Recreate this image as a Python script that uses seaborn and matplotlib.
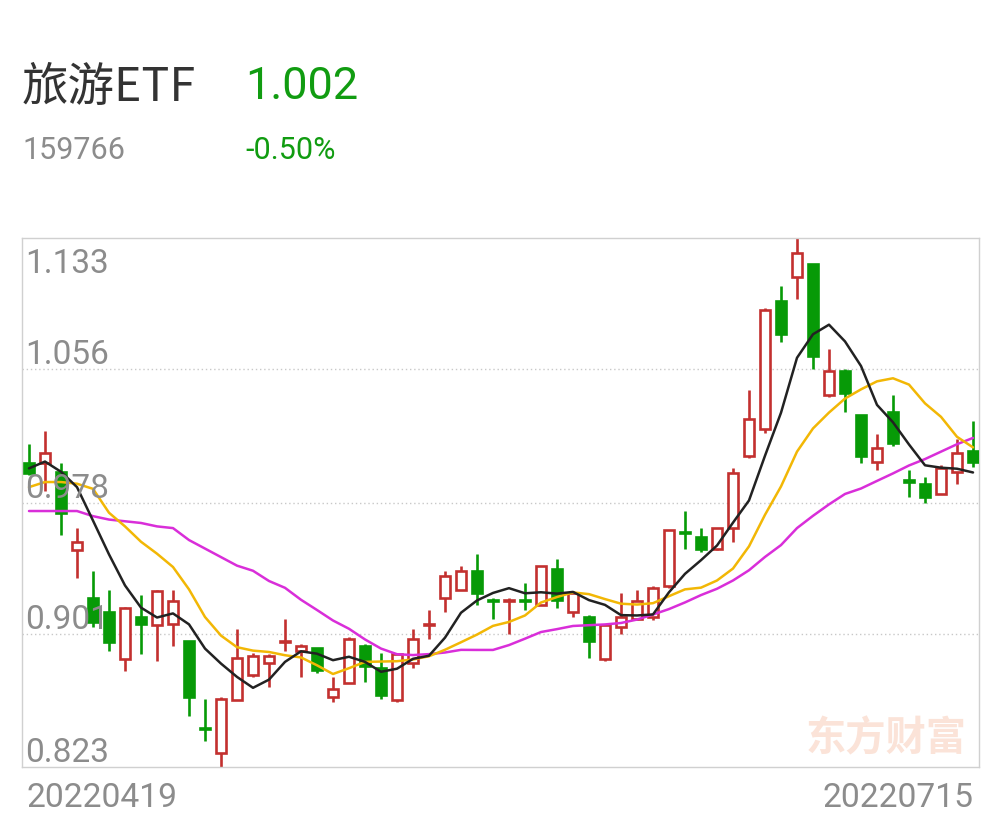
import numpy as np
import pandas as pd
import matplotlib
matplotlib.use('Agg')
import matplotlib.pyplot as plt
import matplotlib.transforms as mtransforms
import seaborn as sns

# ---------------- data ----------------
title_name = '旅游ETF'
code = '159766'
last_price = '1.002'
last_change = '-0.50%'
date_first = '20220419'
date_last = '20220715'
y_ticks = [1.133, 1.056, 0.978, 0.901, 0.823]

opens = [1.001, 1.001, 0.996, 0.950, 0.922, 0.914, 0.886, 0.911, 0.906, 0.907,
         0.897, 0.846, 0.831, 0.862, 0.877, 0.884, 0.896, 0.891, 0.893, 0.864,
         0.872, 0.894, 0.881, 0.862, 0.884, 0.906, 0.922, 0.927, 0.938, 0.921,
         0.920, 0.921, 0.918, 0.939, 0.914, 0.911, 0.886, 0.905, 0.910, 0.911,
         0.929, 0.961, 0.958, 0.951, 0.963, 1.005, 1.021, 1.096, 1.110, 1.118,
         1.041, 1.055, 1.029, 1.002, 1.031, 0.991, 0.989, 0.983, 0.996, 1.008]
highs = [1.012, 1.020, 1.001, 0.963, 0.938, 0.927, 0.917, 0.924, 0.927, 0.927,
         0.897, 0.863, 0.864, 0.904, 0.890, 0.889, 0.910, 0.895, 0.893, 0.876,
         0.899, 0.895, 0.890, 0.890, 0.904, 0.915, 0.938, 0.941, 0.948, 0.922,
         0.922, 0.931, 0.941, 0.945, 0.926, 0.912, 0.906, 0.925, 0.927, 0.929,
         0.962, 0.973, 0.963, 0.963, 0.998, 1.044, 1.092, 1.105, 1.133, 1.118,
         1.068, 1.056, 1.029, 1.018, 1.041, 0.997, 0.993, 1.000, 1.015, 1.026]
lows = [0.994, 0.985, 0.959, 0.934, 0.905, 0.891, 0.879, 0.889, 0.885, 0.894,
        0.853, 0.838, 0.823, 0.862, 0.876, 0.870, 0.891, 0.876, 0.878, 0.861,
        0.872, 0.873, 0.863, 0.861, 0.881, 0.898, 0.914, 0.927, 0.918, 0.910,
        0.901, 0.915, 0.918, 0.916, 0.911, 0.887, 0.885, 0.901, 0.909, 0.909,
        0.928, 0.951, 0.949, 0.950, 0.955, 1.004, 1.019, 1.072, 1.097, 1.056,
        1.040, 1.031, 1.001, 0.997, 1.011, 0.981, 0.978, 0.983, 0.989, 0.999]
closes = [0.995, 1.007, 0.972, 0.955, 0.908, 0.896, 0.916, 0.907, 0.926, 0.920,
          0.864, 0.845, 0.863, 0.887, 0.888, 0.888, 0.897, 0.894, 0.880, 0.869,
          0.898, 0.882, 0.865, 0.889, 0.898, 0.907, 0.935, 0.938, 0.925, 0.920,
          0.921, 0.920, 0.941, 0.921, 0.925, 0.897, 0.906, 0.911, 0.920, 0.928,
          0.962, 0.960, 0.951, 0.963, 0.995, 1.027, 1.091, 1.077, 1.124, 1.064,
          1.055, 1.042, 1.005, 1.010, 1.013, 0.990, 0.981, 0.998, 1.007, 1.002]

# moving-average values at the start of the window (read from the chart;
# they depend on sessions before the first candle)
ma5_head = [0.998, 1.002, 0.996, 0.987]
ma10_head = [0.987, 0.990, 0.990, 0.989, 0.986, 0.972, 0.964, 0.955, 0.948]
ma20_head = [0.973, 0.973, 0.973, 0.973, 0.970, 0.968, 0.967, 0.966, 0.964, 0.963,
             0.956, 0.951, 0.946, 0.941, 0.938, 0.932, 0.928, 0.921, 0.915]

# ---------------- styling ----------------
sns.set_theme(style='white')
plt.rcParams['font.family'] = ['Roboto', 'DejaVu Sans']

RED = '#c3302f'
GREEN = '#079a07'
TXT_GREEN = '#119c11'
GRAY = '#8c8c8c'

df = pd.DataFrame({'open': opens, 'high': highs, 'low': lows, 'close': closes})
df['idx'] = np.arange(len(df))


def ma(series, n, head):
    m = series.rolling(n).mean()
    m.iloc[:len(head)] = head
    return m


df['ma5'] = ma(df['close'], 5, ma5_head)
df['ma10'] = ma(df['close'], 10, ma10_head)
df['ma20'] = ma(df['close'], 20, ma20_head)

W, H = 1002, 823
fig = plt.figure(figsize=(W / 100, H / 100), dpi=100)
fig.patch.set_facecolor('white')
ax = fig.add_axes([22 / W, 1 - 767 / H, 957 / W, 529 / H])
ax.set_facecolor('white')

ax.set_xlim(-0.4375, len(df) - 1 + 0.375)
ax.set_ylim(y_ticks[-1], y_ticks[0])

# grid lines
for v in y_ticks[1:-1]:
    ax.axhline(v, color='#c8c8c8', lw=1.0, ls=(0, (1, 2)), zorder=0)

# candles
up = df['close'] >= df['open']
cols = np.where(up, RED, GREEN)
ax.vlines(df['idx'], df['low'], df['high'], colors=cols, lw=1.9, zorder=2)
body_bottom = np.minimum(df['open'], df['close'])
body_h = np.maximum(np.abs(df['close'] - df['open']), 0.0006)
face = np.where(up, 'white', GREEN)
ax.bar(df['idx'], body_h, bottom=body_bottom, width=0.58,
       color=face, edgecolor=cols, linewidth=1.9, zorder=3)

# moving averages
sns.lineplot(data=df, x='idx', y='ma20', ax=ax, color='#d92ed9', lw=1.8, zorder=4)
sns.lineplot(data=df, x='idx', y='ma10', ax=ax, color='#f2b705', lw=1.8, zorder=4)
sns.lineplot(data=df, x='idx', y='ma5', ax=ax, color='#222222', lw=1.8, zorder=5)

ax.set_xlabel('')
ax.set_ylabel('')
ax.set_xticks([])
ax.set_yticks([])
for s in ax.spines.values():
    s.set_color('#d0d0d0')
    s.set_linewidth(1.0)
    s.set_visible(True)

# y labels inside plot
blend = mtransforms.blended_transform_factory(ax.transAxes, ax.transData)
for i, v in enumerate(y_ticks):
    dy = -35 if i == 0 else 5
    tr = mtransforms.offset_copy(blend, fig=fig, x=0, y=dy, units='dots')
    ax.text(3 / 957, v, f'{v:.3f}', transform=tr, ha='left', va='baseline',
            fontsize=24, color=GRAY, zorder=6)

# x labels
fig.text(27 / W, 1 - 807 / H, date_first, ha='left', va='baseline',
         fontsize=24.2, color=GRAY)
fig.text(974 / W, 1 - 807 / H, date_last, ha='right', va='baseline',
         fontsize=24.2, color=GRAY)

# header
fig.text(22 / W, 1 - 101 / H, title_name, ha='left', va='baseline', fontsize=33.5,
         color='#333333', family=['Noto Sans CJK SC', 'DejaVu Sans'])
fig.text(245 / W, 1 - 99 / H, last_price, ha='left', va='baseline', fontsize=32.5,
         color=TXT_GREEN)
fig.text(22 / W, 1 - 159 / H, code, ha='left', va='baseline', fontsize=22,
         color=GRAY)
fig.text(245 / W, 1 - 159 / H, last_change, ha='left', va='baseline', fontsize=22,
         color=TXT_GREEN)

# watermark
fig.text(806 / W, 1 - 750 / H, '东方财富', ha='left', va='baseline', fontsize=29,
         fontweight='bold', color='#fbe3d8',
         family=['Noto Sans CJK SC', 'DejaVu Sans'])

fig.savefig('out.png', dpi=100, facecolor='white')
